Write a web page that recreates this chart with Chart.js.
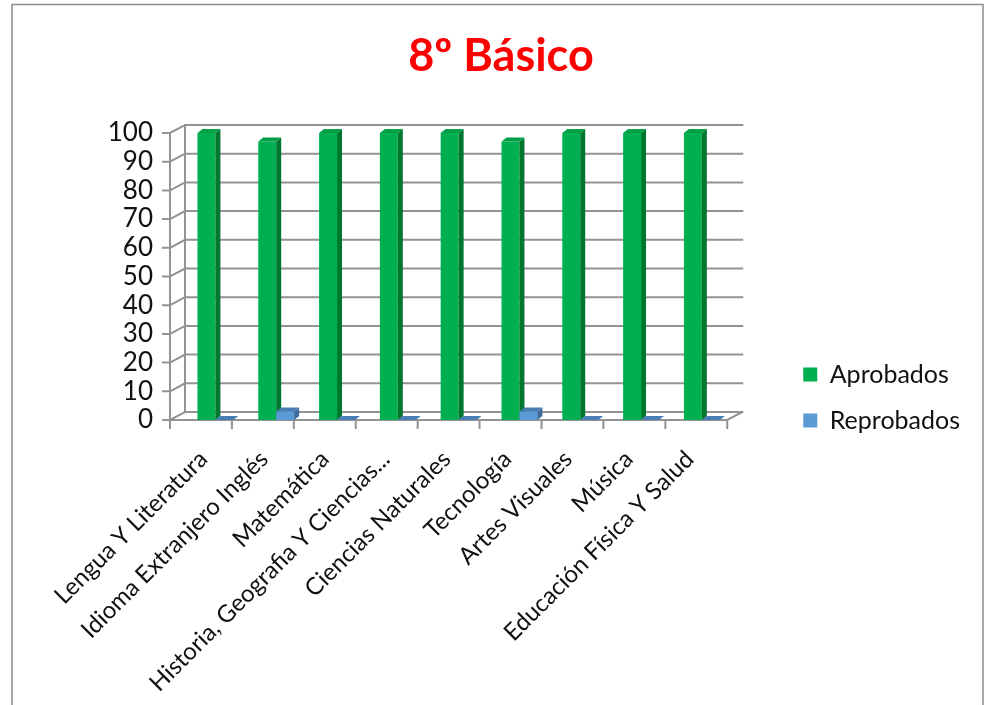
<!DOCTYPE html>
<html>
<head>
<meta charset="utf-8">
<script src="https://cdn.jsdelivr.net/npm/chart.js@4"></script>
<style>
  html, body { margin: 0; padding: 0; background: #fff; overflow: hidden; }
  #wrap { width: 988px; height: 705px; }
</style>
</head>
<body>
<div id="wrap"><canvas id="chart" width="988" height="705"></canvas></div>
<script>
// data
const categories = [
  'Lengua Y Literatura',
  'Idioma Extranjero Inglés',
  'Matemática',
  'Historia, Geografia Y Ciencias...',
  'Ciencias Naturales',
  'Tecnología',
  'Artes Visuales',
  'Música',
  'Educación Física Y Salud'
];
const aprobados = [100, 97, 100, 100, 100, 97, 100, 100, 100];
const reprobados = [0, 3, 0, 0, 0, 3, 0, 0, 0];
const yTicks = [0, 10, 20, 30, 40, 50, 60, 70, 80, 90, 100];

const FONT = 'Lato, "Open Sans", sans-serif';

// 3D look: back wall offset and bar depth
const WALL = { frontL: -15, frontR: -5, backR: 10, dy: 8 };
const DEPTH = { dx: 5, dy: 4 };

const shade = [
  { side: '#00772f', top: '#00a049' },
  { side: '#3e6d9c', top: '#4a7db4' }
];

function drawFaces(ctx, bar, c) {
  const p = bar.getProps(['x', 'y', 'base', 'width'], true);
  const l = p.x - p.width / 2, r = p.x + p.width / 2;
  ctx.fillStyle = c.side;
  ctx.beginPath();
  ctx.moveTo(r, p.y);
  ctx.lineTo(r + DEPTH.dx, p.y - DEPTH.dy);
  ctx.lineTo(r + DEPTH.dx, p.base - DEPTH.dy);
  ctx.lineTo(r, p.base);
  ctx.closePath();
  ctx.fill();
  ctx.fillStyle = c.top;
  ctx.beginPath();
  ctx.moveTo(l, p.y);
  ctx.lineTo(l + DEPTH.dx, p.y - DEPTH.dy);
  ctx.lineTo(r + DEPTH.dx, p.y - DEPTH.dy);
  ctx.lineTo(r, p.y);
  ctx.closePath();
  ctx.fill();
}

const excel3d = {
  id: 'excel3d',
  beforeDraw(chart) {
    const ctx = chart.ctx;
    ctx.save();
    ctx.fillStyle = '#fff';
    ctx.fillRect(0, 0, chart.width, chart.height);
    ctx.strokeStyle = '#8c8c8c';
    ctx.lineWidth = 1.5;
    ctx.strokeRect(12, 4.5, 971, 740);
    ctx.restore();
  },
  beforeDatasetsDraw(chart) {
    const { ctx, chartArea: ca, scales: { y } } = chart;
    const fl = ca.left + WALL.frontL, fr = ca.right + WALL.frontR;
    const bl = ca.left, br = ca.right + WALL.backR;
    const y0 = y.getPixelForValue(0), yTop = y.getPixelForValue(100);
    ctx.save();
    ctx.strokeStyle = '#939393';
    ctx.lineWidth = 2;
    ctx.lineCap = 'square';
    ctx.beginPath();
    yTicks.forEach(v => {
      const yf = y.getPixelForValue(v);
      ctx.moveTo(fl, yf);
      ctx.lineTo(bl, yf - WALL.dy);
      ctx.lineTo(br, yf - WALL.dy);
      // small tick on the front axis
      ctx.moveTo(fl - 7, yf);
      ctx.lineTo(fl, yf);
    });
    // left walls
    ctx.moveTo(fl, yTop); ctx.lineTo(fl, y0);
    ctx.moveTo(bl, yTop - WALL.dy); ctx.lineTo(bl, y0 - WALL.dy);
    // floor front edge + right diagonal
    ctx.moveTo(fl, y0); ctx.lineTo(fr, y0); ctx.lineTo(br, y0 - WALL.dy);
    // category ticks on the front edge
    const n = categories.length;
    for (let i = 0; i <= n; i++) {
      const x = fl + i * (fr - fl) / n;
      ctx.moveTo(x, y0); ctx.lineTo(x, y0 + 8);
    }
    ctx.stroke();
    ctx.restore();
  },
  afterDatasetsDraw(chart) {
    const ctx = chart.ctx;
    const green = chart.getDatasetMeta(0), blue = chart.getDatasetMeta(1);
    ctx.save();
    green.data.forEach(bar => drawFaces(ctx, bar, shade[0]));
    // blue bars sit in front of the green side faces
    blue.data.forEach(bar => { bar.draw(ctx); drawFaces(ctx, bar, shade[1]); });
    ctx.restore();
  }
};

function build() {
  new Chart(document.getElementById('chart'), {
    type: 'bar',
    data: {
      labels: categories,
      datasets: [
        { label: 'Aprobados', data: aprobados, backgroundColor: '#00b050',
          categoryPercentage: 0.59, barPercentage: 1 },
        { label: 'Reprobados', data: reprobados, backgroundColor: '#5b9bd5',
          categoryPercentage: 0.59, barPercentage: 1 }
      ]
    },
    options: {
      responsive: false,
      animation: false,
      layout: { padding: { left: 32, right: 18, top: 0, bottom: 0 } },
      plugins: {
        title: {
          display: true,
          text: '8º Básico',
          color: '#ff0000',
          font: { family: FONT, size: 45, weight: 'bold' },
          padding: { top: 29, bottom: 50 }
        },
        legend: {
          position: 'right',
          maxWidth: 300,
          title: { display: true, text: ' ', font: { size: 10 }, padding: 39 },
          labels: {
            color: '#111',
            font: { family: FONT, size: 25 },
            boxWidth: 14,
            boxHeight: 14,
            padding: 21
          }
        },
        tooltip: { enabled: false }
      },
      scales: {
        x: {
          grid: { display: false },
          border: { display: false },
          ticks: {
            color: '#111',
            font: { family: FONT, size: 24 },
            minRotation: 45,
            maxRotation: 45,
            autoSkip: false,
            padding: 17,
            labelOffset: -12
          },
          afterFit(scale) { scale.height = 285; }
        },
        y: {
          min: 0,
          max: 100,
          grid: { display: false, drawTicks: false },
          border: { display: false },
          ticks: {
            stepSize: 10,
            autoSkip: false,
            color: '#111',
            font: { family: FONT, size: 26 },
            padding: 32
          },
          afterFit(scale) { scale.width = 153; }
        },
        spacer: {
          position: 'right',
          display: true,
          grid: { display: false },
          border: { display: false },
          ticks: { display: false },
          afterFit(scale) { scale.width = 50; }
        }
      }
    },
    plugins: [excel3d]
  });
}

Promise.all([
  document.fonts.load('25px Lato'),
  document.fonts.load('bold 45px Lato')
]).then(build, build);
</script>
</body>
</html>
